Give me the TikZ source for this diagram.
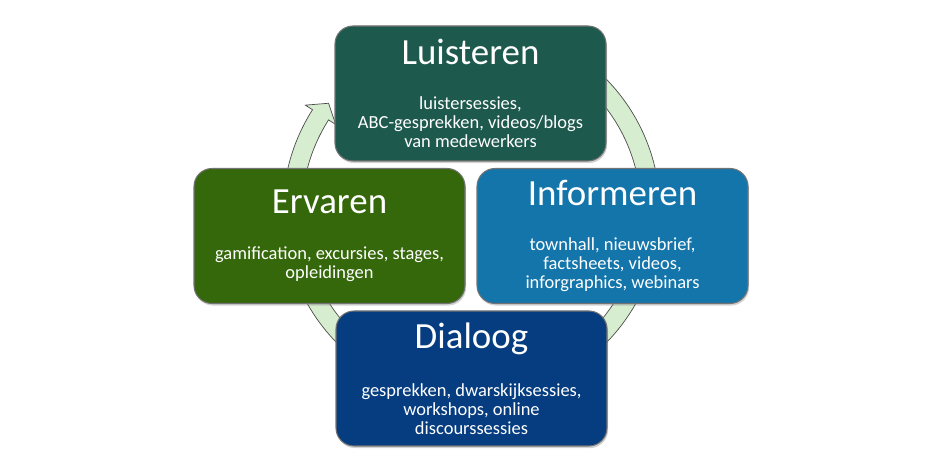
\documentclass[tikz,border=0pt]{standalone}
\usepackage{fontspec}
\setmainfont{Carlito}
\usetikzlibrary{shadows}

\definecolor{ringgreen}{RGB}{214,237,207}
\definecolor{luistercol}{RGB}{30,89,78}
\definecolor{informcol}{RGB}{20,117,171}
\definecolor{dialoogcol}{RGB}{5,61,128}
\definecolor{ervarencol}{RGB}{53,104,10}

\tikzset{
  phasebox/.style={draw=black!55, line width=0.6pt, rounded corners=0.36cm,
    minimum width=5.42cm, minimum height=2.7cm, text=white, align=center,
    font=\fontsize{10.5}{10.8}\selectfont,
    drop shadow={opacity=0.35, shadow xshift=0.6pt, shadow yshift=-1.2pt}},
  ringarrow/.style={fill=ringgreen, draw=black!70, line width=0.4pt}
}

\newcommand{\phasetitle}[1]{{\fontsize{21}{22}\selectfont #1}\\[15.2pt]}

\begin{document}
\begin{tikzpicture}

\useasboundingbox (0,0) rectangle (18.9,9.48);

% Draw the cycle arrow behind the boxes
\begin{scope}[shift={(9.43,5.26)}]
\draw[ringarrow] (45:3.77) arc[start angle=45, end angle=-212.5, radius=3.77]
  -- (-212.5:3.94) -- (-217:3.58) -- (-212.5:3.22) -- (-212.5:3.39)
  arc[start angle=-212.5, end angle=45, radius=3.39] -- cycle;
\end{scope}

% Phase boxes
\node[phasebox, fill=luistercol] (luisteren) at (9.41,7.61)
  {\phasetitle{Luisteren}luistersessies,\\ABC-gesprekken, videos/blogs\\van medewerkers};
\node[phasebox, fill=informcol] (informeren) at (12.25,4.76)
  {\phasetitle{Informeren}townhall, nieuwsbrief,\\factsheets, videos,\\inforgraphics, webinars};
\node[phasebox, fill=ervarencol] (ervaren) at (6.59,4.76)
  {\phasetitle{Ervaren}gamification, excursies, stages,\\opleidingen};
\node[phasebox, fill=dialoogcol] (dialoog) at (9.43,1.91)
  {\phasetitle{Dialoog}gesprekken, dwarskijksessies,\\workshops, online\\discourssessies};

\end{tikzpicture}
\end{document}
